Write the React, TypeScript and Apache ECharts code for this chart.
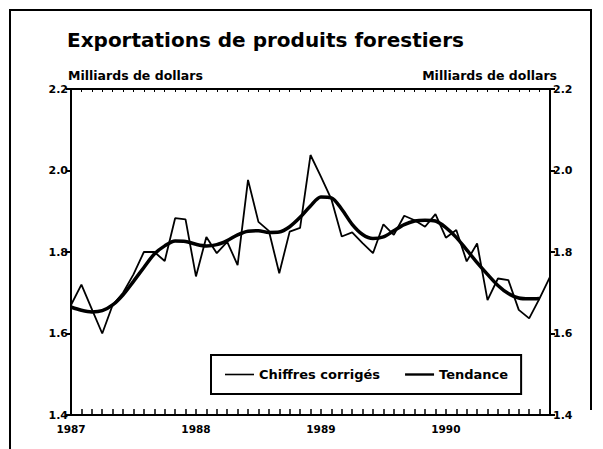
import React, { useEffect, useRef } from "react";
import * as echarts from "echarts";

const years = ["1987", "1988", "1989", "1990"];
const monthsCount = 47;
const categories: string[] = [];
for (let i = 0; i < monthsCount; i++) {
  const y = 1987 + Math.floor(i / 12);
  const m = (i % 12) + 1;
  categories.push(`${y}-${m < 10 ? "0" + m : m}`);
}

const chiffresCorriges = [
  1.67, 1.72, 1.66, 1.6, 1.67, 1.7, 1.745, 1.8, 1.8, 1.778,
  1.883, 1.88, 1.74, 1.837, 1.797, 1.825, 1.768, 1.977, 1.874, 1.852,
  1.748, 1.85, 1.859, 2.038, 1.985, 1.93, 1.838, 1.848, 1.822, 1.797,
  1.868, 1.842, 1.889, 1.878, 1.862, 1.893, 1.835, 1.854, 1.777, 1.821,
  1.682, 1.735, 1.731, 1.658, 1.637, 1.686, 1.739,
];

const tendance = [
  1.665, 1.657, 1.653, 1.656, 1.67, 1.695, 1.728, 1.762, 1.795, 1.815,
  1.827, 1.826, 1.819, 1.815, 1.818, 1.828, 1.842, 1.851, 1.852, 1.848,
  1.849, 1.862, 1.885, 1.913, 1.935, 1.933, 1.905, 1.868, 1.843, 1.833,
  1.837, 1.852, 1.867, 1.876, 1.878, 1.876, 1.86, 1.836, 1.805, 1.774,
  1.745, 1.718, 1.698, 1.687, 1.685, 1.686,
];

const yTicks = { min: 1.4, max: 2.2, interval: 0.2 };

const FONT = "DejaVu Sans";

export default function App() {
  const ref = useRef<HTMLDivElement>(null);
  useEffect(() => {
    if (!ref.current) return;
    const chart = echarts.init(ref.current, null, { renderer: "svg" });
    const yAxisCommon = {
      type: "value" as const,
      min: yTicks.min,
      max: yTicks.max,
      interval: yTicks.interval,
      splitLine: { show: false },
      axisLine: { show: true, lineStyle: { color: "#000", width: 2 } },
      axisTick: { show: true, inside: false, length: 5, lineStyle: { color: "#000", width: 2 } },
      axisLabel: {
        color: "#000",
        fontFamily: FONT,
        fontWeight: "bold" as const,
        fontSize: 11,
        margin: 3,
        formatter: (v: number) => v.toFixed(1),
      },
    };
    chart.setOption({
      animation: false,
      backgroundColor: "#fff",
      grid: { left: 71, right: 53, top: 89, bottom: 34, containLabel: false },
      xAxis: [
        {
          type: "category",
          data: categories,
          boundaryGap: false,
          position: "bottom",
          axisLine: { show: true, lineStyle: { color: "#000", width: 2 } },
          axisTick: { show: true, inside: true, length: 6, interval: 0, lineStyle: { color: "#000", width: 1.5 } },
          axisLabel: {
            color: "#000",
            fontFamily: FONT,
            fontWeight: "bold",
            fontSize: 10.5,
            margin: 8,
            interval: (index: number) => index % 12 === 0,
            formatter: (_v: string, index: number) => years[Math.floor(index / 12)] ?? "",
          },
          splitLine: { show: false },
        },
        {
          type: "category",
          data: categories,
          boundaryGap: false,
          position: "top",
          axisLine: { show: true, lineStyle: { color: "#000", width: 2 } },
          axisTick: { show: true, inside: true, length: 3, interval: 0, lineStyle: { color: "#000", width: 1 } },
          axisLabel: { show: false },
          splitLine: { show: false },
        },
      ],
      yAxis: [
        { ...yAxisCommon, position: "left" },
        { ...yAxisCommon, position: "right" },
      ],
      legend: {
        left: 211,
        top: 355,
        orient: "horizontal",
        borderColor: "#000",
        borderWidth: 2,
        padding: [13, 13, 13, 14],
        itemGap: 25,
        itemWidth: 29,
        itemHeight: 10,
        textStyle: { color: "#000", fontFamily: FONT, fontWeight: "bold", fontSize: 13 },
        data: [
          { name: "Chiffres corrigés", icon: "path://M0,4.2 L29,4.2 L29,5.8 L0,5.8 Z" },
          { name: "Tendance", icon: "path://M0,3.8 L29,3.8 L29,6.2 L0,6.2 Z" },
        ],
      },
      series: [
        {
          name: "Chiffres corrigés",
          type: "line",
          data: chiffresCorriges,
          symbol: "none",
          lineStyle: { color: "#000", width: 1.8 },
          itemStyle: { color: "#000" },
        },
        {
          name: "Tendance",
          type: "line",
          data: tendance,
          symbol: "none",
          smooth: 0.3,
          lineStyle: { color: "#000", width: 3.5 },
          itemStyle: { color: "#000" },
        },
      ],
      graphic: [
        {
          type: "polyline",
          shape: { points: [[10, 449], [10, 10], [591, 10], [591, 410]] },
          style: { stroke: "#000", lineWidth: 2, fill: "none" },
          silent: true,
        },
        {
          type: "text",
          x: 67,
          y: 40,
          style: {
            text: "Exportations de produits forestiers",
            fontFamily: FONT,
            fontWeight: "bold",
            fontSize: 20,
            fill: "#000",
            verticalAlign: "middle",
            align: "left",
          },
        },
        {
          type: "text",
          x: 68,
          y: 75,
          style: {
            text: "Milliards de dollars",
            fontFamily: FONT,
            fontWeight: "bold",
            fontSize: 12.5,
            fill: "#000",
            verticalAlign: "middle",
            align: "left",
          },
        },
        {
          type: "text",
          x: 557,
          y: 75,
          style: {
            text: "Milliards de dollars",
            fontFamily: FONT,
            fontWeight: "bold",
            fontSize: 12.5,
            fill: "#000",
            verticalAlign: "middle",
            align: "right",
          },
        },
      ],
    });
    return () => chart.dispose();
  }, []);
  return (
    <div
      ref={ref}
      style={{ position: "fixed", left: 0, top: 0, width: 603, height: 449, background: "#fff" }}
    />
  );
}
